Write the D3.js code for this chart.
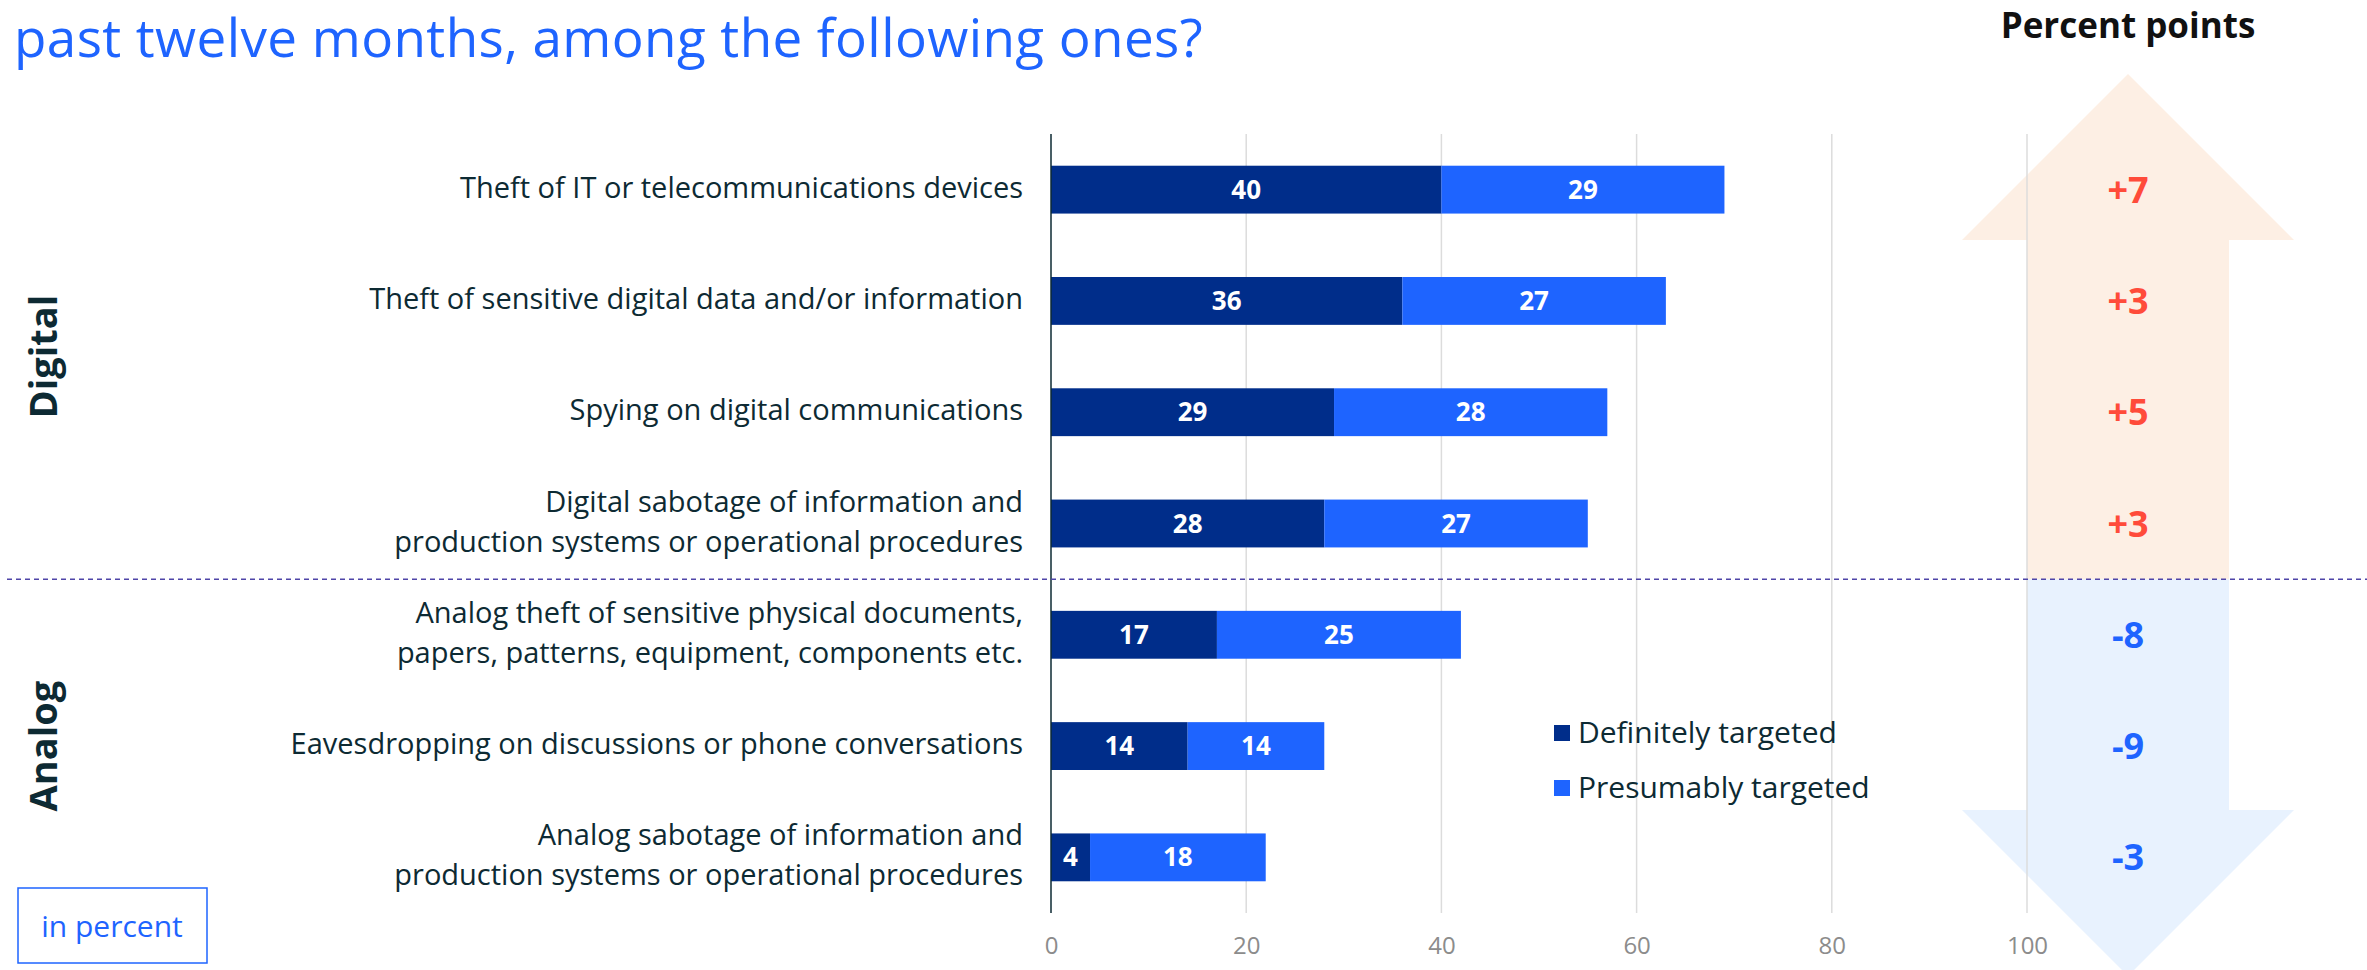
<!DOCTYPE html>
<html>
<head>
<meta charset="utf-8">
<script src="https://cdn.jsdelivr.net/npm/d3@7"></script>
<style>
  html, body { margin: 0; padding: 0; background: #ffffff; }
  svg { display: block; }
  text { font-family: "Open Sans", "Noto Sans", sans-serif; }
</style>
</head>
<body>
<svg id="chart" width="2367" height="970"></svg>
<script>
// Attack types, top to bottom (line breaks marked with \n)
const categories = [
  "Theft of IT or telecommunications devices",
  "Theft of sensitive digital data and/or information",
  "Spying on digital communications",
  "Digital sabotage of information and\nproduction systems or operational procedures",
  "Analog theft of sensitive physical documents,\npapers, patterns, equipment, components etc.",
  "Eavesdropping on discussions or phone conversations",
  "Analog sabotage of information and\nproduction systems or operational procedures"
];
const definitely = [40, 36, 29, 28, 17, 14, 4];
const presumably = [29, 27, 28, 27, 25, 14, 18];
const change = [7, 3, 5, 3, -8, -9, -3];
const groups = [
  { name: "Digital", from: 0, to: 3 },
  { name: "Analog", from: 4, to: 6 }
];
const seriesNames = ["Definitely targeted", "Presumably targeted"];
const xTicks = [0, 20, 40, 60, 80, 100];

const C = {
  dark: "#002d8a",
  bright: "#1e64ff",
  text: "#0d2a33",
  grid: "#dcdcdc",
  tick: "#8c8c8c",
  up: "#fdefe4",
  down: "#e8f2fe",
  pos: "#ff4b3a",
  neg: "#1e64ff",
  divider: "#4f45a8"
};

const svg = d3.select("#chart");

const x = d3.scaleLinear().domain([0, 100]).range([1051, 2027]);
const y = d3.scaleBand().domain(d3.range(categories.length))
  .range([134, 913]).paddingInner(0.57).paddingOuter(0.285);
const yTop = 134, yBottom = 913;
const step = y.step();
const dividerY = yTop + step * (groups[1].from);

// Title (second line of the heading)
svg.append("text")
  .attr("x", 14).attr("y", 57)
  .attr("font-size", 53)
  .attr("letter-spacing", 0.4)
  .attr("fill", C.bright)
  .text("past twelve months, among the following ones?");

// Change arrows in the right column
const ax = d3.scaleLinear().domain([0, 100]).range([x(100), x(100) + 202]);
const cx = ax(50);
const headHalf = 166;
const headH = 166;
const upTip = 74;
const upArrow = [
  [cx, upTip], [cx + headHalf, upTip + headH], [ax(100), upTip + headH],
  [ax(100), dividerY], [ax(0), dividerY], [ax(0), upTip + headH],
  [cx - headHalf, upTip + headH]
];
const downBase = 810;
const downArrow = [
  [ax(0), dividerY], [ax(100), dividerY], [ax(100), downBase],
  [cx + headHalf, downBase], [cx, downBase + headH],
  [cx - headHalf, downBase], [ax(0), downBase]
];
svg.append("path").attr("d", d3.line()(upArrow) + "Z").attr("fill", C.up);
svg.append("path").attr("d", d3.line()(downArrow) + "Z").attr("fill", C.down);

svg.append("text")
  .attr("x", cx).attr("y", 38)
  .attr("text-anchor", "middle")
  .attr("font-size", 35).attr("font-weight", 700)
  .attr("fill", "#111111")
  .text("Percent points");

// Gridlines
svg.append("g").selectAll("line")
  .data(xTicks.filter(d => d > 0))
  .join("line")
  .attr("x1", d => x(d)).attr("x2", d => x(d))
  .attr("y1", yTop).attr("y2", yBottom)
  .attr("stroke", C.grid).attr("stroke-width", 1.5);

// Tick labels along the bottom
const xAxis = svg.append("g")
  .attr("transform", `translate(0,${yBottom})`)
  .call(d3.axisBottom(x).tickValues(xTicks).tickSize(0).tickPadding(24));
xAxis.select(".domain").remove();
xAxis.selectAll("text")
  .attr("font-family", "\"Open Sans\", sans-serif")
  .attr("font-size", 24).attr("fill", C.tick);

// Stacked bars
const rows = categories.map((c, i) => ({ i, def: definitely[i], pre: presumably[i] }));
const barG = svg.append("g");
barG.selectAll("rect.def").data(rows).join("rect")
  .attr("class", "def")
  .attr("x", x(0)).attr("y", d => y(d.i))
  .attr("width", d => x(d.def) - x(0)).attr("height", y.bandwidth())
  .attr("fill", C.dark);
barG.selectAll("rect.pre").data(rows).join("rect")
  .attr("class", "pre")
  .attr("x", d => x(d.def)).attr("y", d => y(d.i))
  .attr("width", d => x(d.def + d.pre) - x(d.def)).attr("height", y.bandwidth())
  .attr("fill", C.bright);

// Values inside the segments
const valText = (sel, xf, tf) => sel
  .attr("x", xf)
  .attr("y", d => y(d.i) + y.bandwidth() / 2 + 9)
  .attr("text-anchor", "middle")
  .attr("font-size", 26).attr("font-weight", 700)
  .attr("fill", "#ffffff")
  .text(tf);
barG.selectAll("text.dv").data(rows).join("text").attr("class", "dv")
  .call(valText, d => (x(0) + x(d.def)) / 2, d => d.def);
barG.selectAll("text.pv").data(rows).join("text").attr("class", "pv")
  .call(valText, d => (x(d.def) + x(d.def + d.pre)) / 2, d => d.pre);

// Axis line at zero
svg.append("line")
  .attr("x1", x(0)).attr("x2", x(0))
  .attr("y1", yTop).attr("y2", yBottom)
  .attr("stroke", C.text).attr("stroke-width", 1.5);

// Category labels
const lineH = 40;
const catG = svg.append("g");
categories.forEach((c, i) => {
  const lines = c.split("\n");
  const cy = y(i) + y.bandwidth() / 2;
  const t = catG.append("text")
    .attr("text-anchor", "end")
    .attr("font-size", 29)
    .attr("fill", C.text);
  lines.forEach((ln, k) => {
    t.append("tspan")
      .attr("x", 1023)
      .attr("y", cy + 8 + (k - (lines.length - 1) / 2) * lineH)
      .text(ln);
  });
});

// Change values
svg.append("g").selectAll("text")
  .data(change.map((v, i) => ({ v, i })))
  .join("text")
  .attr("x", cx)
  .attr("y", d => y(d.i) + y.bandwidth() / 2 + 13)
  .attr("text-anchor", "middle")
  .attr("font-size", 36).attr("font-weight", 700)
  .attr("fill", d => d.v >= 0 ? C.pos : C.neg)
  .text(d => (d.v >= 0 ? "+" : "-") + Math.abs(d.v));

// Divider between groups
svg.append("line")
  .attr("x1", 7).attr("x2", 2367)
  .attr("y1", dividerY).attr("y2", dividerY)
  .attr("stroke", C.divider).attr("stroke-width", 1.5)
  .attr("stroke-dasharray", "5,4");

// Group labels
groups.forEach(g => {
  const gy = (yTop + step * g.from + yTop + step * (g.to + 1)) / 2;
  svg.append("text")
    .attr("transform", `translate(57,${gy}) rotate(-90)`)
    .attr("text-anchor", "middle")
    .attr("font-size", 38).attr("font-weight", 700)
    .attr("fill", C.text)
    .text(g.name);
});

// Legend
const lg = svg.append("g").attr("transform", "translate(1554,725)");
seriesNames.forEach((s, k) => {
  lg.append("rect")
    .attr("x", 0).attr("y", k * 55)
    .attr("width", 16).attr("height", 16)
    .attr("fill", k === 0 ? C.dark : C.bright);
  lg.append("text")
    .attr("x", 24).attr("y", k * 55 + 18)
    .attr("font-size", 30)
    .attr("fill", C.text)
    .text(s);
});

// Unit note
svg.append("rect")
  .attr("x", 18).attr("y", 888)
  .attr("width", 189).attr("height", 75)
  .attr("fill", "none")
  .attr("stroke", C.bright).attr("stroke-width", 1.5);
svg.append("text")
  .attr("x", 112).attr("y", 937)
  .attr("text-anchor", "middle")
  .attr("font-size", 30)
  .attr("fill", C.bright)
  .text("in percent");
</script>
</body>
</html>
